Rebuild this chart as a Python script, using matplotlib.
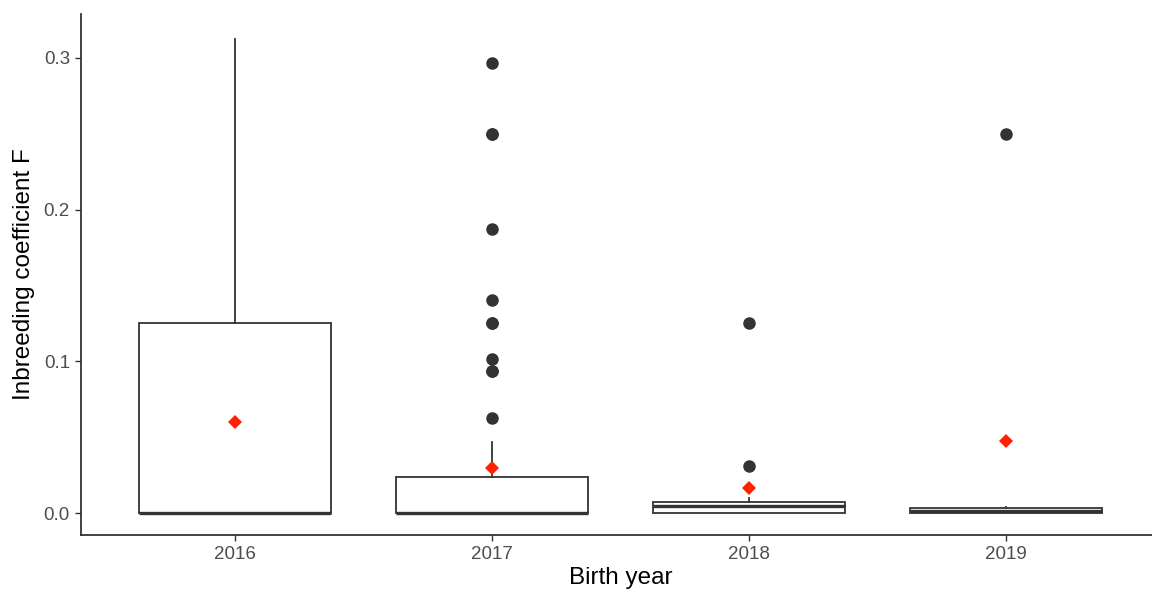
import matplotlib
matplotlib.use("Agg")
import matplotlib.pyplot as plt

plt.rcParams['font.family'] = ['Liberation Sans', 'DejaVu Sans']

# birth cohorts and the summary statistics of F per cohort
years = ["2016", "2017", "2018", "2019"]
q1 = [0.0, 0.0, 0.0, 0.0]
med = [0.0, 0.0, 0.0049, 0.0015]
q3 = [0.125, 0.0237, 0.0073, 0.0033]
whislo = [0.0, 0.0, 0.0, 0.0]
whishi = [0.3125, 0.047, 0.0098, 0.0040]
means = [0.0598, 0.0297, 0.0163, 0.0477]
outliers = [
    [],
    [0.296875, 0.25, 0.25, 0.1875, 0.140625, 0.125, 0.125, 0.1015625, 0.09375, 0.09375, 0.0625],
    [0.125, 0.03125],
    [0.25],
]

stats = []
for i, y in enumerate(years):
    stats.append(dict(label=y, q1=q1[i], med=med[i], q3=q3[i],
                      whislo=whislo[i], whishi=whishi[i], fliers=outliers[i]))

fig = plt.figure(figsize=(11.52, 5.96), dpi=100)
ax = fig.add_axes([81 / 1152, 61 / 596, (1160 - 81) / 1152, (535 - 14) / 596])

dark = "#333333"
pos = list(range(1, len(years) + 1))
ax.bxp(stats, positions=pos, widths=0.75, showfliers=True, showcaps=False,
       patch_artist=True,
       boxprops=dict(facecolor="white", edgecolor=dark, linewidth=1.3),
       medianprops=dict(color=dark, linewidth=2.4, solid_capstyle="butt"),
       whiskerprops=dict(color=dark, linewidth=1.3),
       flierprops=dict(marker="o", markerfacecolor=dark, markeredgecolor=dark,
                       markersize=8, linestyle="none"))

# group means
ax.plot(pos, means, linestyle="none", marker="D", color="#FF2200",
        markersize=7.5, markeredgewidth=0, zorder=5)

ax.set_xlim(0.4, 4.6)
ax.set_ylim(-0.0145, 0.329)
ax.set_xticks(pos)
ax.set_xticklabels(years)
ax.set_yticks([0.0, 0.1, 0.2, 0.3])
ax.set_yticklabels(["0.0", "0.1", "0.2", "0.3"])

for side in ("top", "right"):
    ax.spines[side].set_visible(False)
for side in ("left", "bottom"):
    ax.spines[side].set_linewidth(1.3)
    ax.spines[side].set_color(dark)

ax.tick_params(axis="both", length=4, width=1.0, color=dark,
               labelsize=13.5, labelcolor="#4D4D4D", pad=4)
ax.set_xlabel("Birth year", fontsize=17.5, color="black", labelpad=3)
ax.set_ylabel("Inbreeding coefficient F", fontsize=17.5, color="black", labelpad=6)

fig.savefig("out.png", dpi=100)
